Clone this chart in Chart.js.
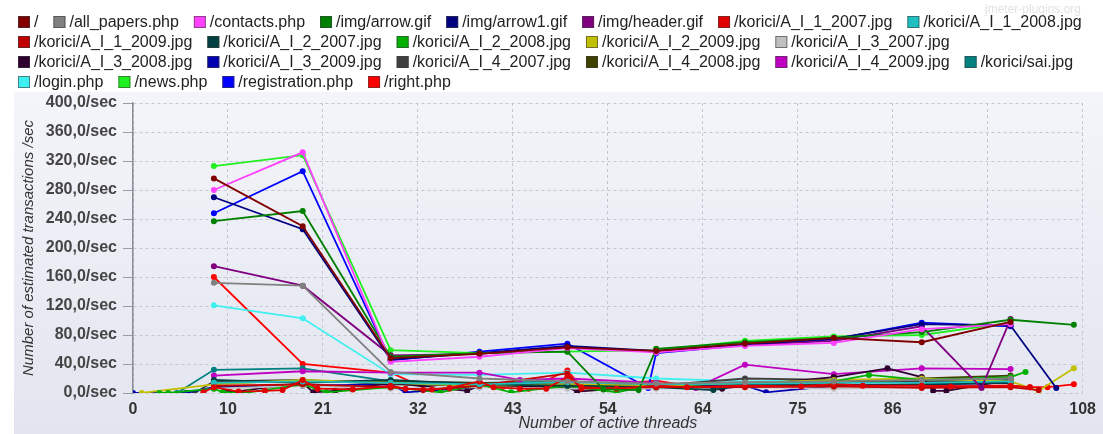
<!DOCTYPE html>
<html>
<head>
<meta charset="utf-8">
<script src="https://cdn.jsdelivr.net/npm/chart.js@4.4.1/dist/chart.umd.min.js"></script>
<style>
  html, body { margin: 0; padding: 0; background: #ffffff; }
  #wrap { width: 1103px; height: 434px; position: relative; }
</style>
</head>
<body>
<div id="wrap"><canvas id="tpsChart"></canvas></div>
<script>
// tick marks of the thread axis (JMeter divides 0..108 in 10 steps, labels truncated)
const threadTicks = [0, 10.8, 21.6, 32.4, 43.2, 54, 64.8, 75.6, 86.4, 97.2, 108];
const threadTickLabels = ['0', '10', '21', '32', '43', '54', '64', '75', '86', '97', '108'];

// samplers in legend order
const urls = [
  '/', '/all_papers.php', '/contacts.php', '/img/arrow.gif', '/img/arrow1.gif', '/img/header.gif',
  '/korici/A_I_1_2007.jpg', '/korici/A_I_1_2008.jpg', '/korici/A_I_1_2009.jpg', '/korici/A_I_2_2007.jpg',
  '/korici/A_I_2_2008.jpg', '/korici/A_I_2_2009.jpg', '/korici/A_I_3_2007.jpg', '/korici/A_I_3_2008.jpg',
  '/korici/A_I_3_2009.jpg', '/korici/A_I_4_2007.jpg', '/korici/A_I_4_2008.jpg', '/korici/A_I_4_2009.jpg',
  '/korici/sai.jpg', '/login.php', '/news.php', '/registration.php', '/right.php'
];
const colors = [
  '#800000', '#808080', '#ff40ff', '#008000', '#000080', '#800080',
  '#e00000', '#20c0c0', '#c00000', '#004040', '#00b000', '#c0c000',
  '#c0c0c0', '#300030', '#0000b0', '#404040', '#404000', '#c000c0',
  '#008080', '#40f0f0', '#20f020', '#0000ff', '#ff0000'
];

// [threads, transactions/sec]
const rootData = [[9.2,296],[19.3,230],[29.3,48],[39.4,54],[49.4,63],[59.5,58],[69.6,68],[79.7,76],[89.7,70],[99.8,98]];
const allPapersData = [[9.2,152],[19.3,148],[29.3,29],[39.4,20],[49.4,16],[59.5,13],[69.6,15],[79.7,16],[89.7,18],[99.8,20]];
const contactsData = [[9.2,280],[19.3,332],[29.3,43],[39.4,50],[49.4,62],[59.5,56],[69.6,65],[79.7,69],[89.7,88],[99.8,95]];
const arrowData = [[9.2,237],[19.3,251],[29.3,50],[39.4,55],[49.4,57],[53.5,5],[57.5,4],[59.5,61],[69.6,70],[79.7,76],[89.7,84],[99.8,101],[107,94]];
const arrow1Data = [[9.2,270],[19.3,226],[29.3,46],[39.4,55],[49.4,65],[59.5,58],[69.6,67],[79.7,75],[89.7,95],[99.8,93],[105,7]];
const headerData = [[9.2,175],[19.3,148],[29.3,52],[39.4,54],[49.4,64],[59.5,57],[69.6,66],[79.7,72],[89.7,92],[96.5,7],[99.8,102]];
const a1_2007Data = [[8,1],[9.2,8],[12,2],[15,3],[17,4],[19.3,18],[21,6],[25,5],[29.3,10],[31,6],[34,5],[36,7],[39.4,16],[41,8],[44,6],[47,6],[49.4,22],[51,8],[55,6],[59.5,10],[63,8],[69.6,10],[76,9],[79.7,12],[83,10],[89.7,10],[93,9],[99.8,10],[102,8]];
const a1_2008Data = [[9.2,14],[19.3,16],[29.3,14],[39.4,12],[49.4,15],[59.5,12],[69.6,13],[79.7,14],[89.7,14],[99.8,16]];
const a1_2009Data = [[9.2,10],[19.3,12],[29.3,8],[33,4],[39.4,10],[49.4,27],[51,6],[59.5,8],[69.6,8],[79.7,9],[89.7,7],[99.8,8],[103,4]];
const a2_2007Data = [[9.2,18],[19.3,14],[29.3,18],[39.4,12],[49.4,10],[59.5,8],[66,4],[69.6,12],[79.7,10],[89.7,12],[99.8,14]];
const a2_2008Data = [[3,0],[4,0],[9.2,6],[10.2,1],[13.2,1],[19.3,12],[22,1],[29.3,8],[35,1],[39.4,12],[43,1],[49.4,10],[55,1],[59.5,12],[69.6,14],[79.7,16],[83.7,25],[89.7,18],[99.8,22],[101.5,29]];
const a2_2009Data = [[1,0],[9.2,12],[19.3,18],[29.3,14],[39.4,10],[49.4,12],[59.5,10],[69.6,14],[79.7,18],[89.7,20],[99.8,16],[103,3],[107,34]];
const a3_2007Data = [[9.2,6],[19.3,10],[29.3,6],[39.4,8],[49.4,6],[59.5,6],[69.6,8],[79.7,6],[89.7,8],[99.8,10]];
const a3_2008Data = [[9.2,12],[11,1],[19.3,14],[20.5,1],[23,3],[29.3,14],[38,3],[39.4,10],[49.4,8],[50.5,2],[59.5,10],[67,6],[69.6,10],[79.7,22],[85.8,34],[89.7,22],[91,3],[92.5,3],[99.8,18]];
const a3_2009Data = [[0,0],[6,0],[9.2,8],[19.3,10],[29.3,12],[31,1],[39.4,8],[49.4,10],[59.5,8],[69.6,10],[72,1],[79.7,10],[89.7,12],[99.8,14]];
const a4_2007Data = [[7,0],[9.2,16],[19.3,18],[29.3,12],[39.4,10],[49.4,8],[59.5,10],[69.6,20],[79.7,18],[89.7,16],[99.8,18]];
const a4_2008Data = [[9.2,14],[19.3,16],[29.3,16],[39.4,14],[49.4,12],[59.5,10],[69.6,12],[79.7,14],[89.7,20],[99.8,24]];
const a4_2009Data = [[9.2,24],[19.3,30],[29.3,28],[39.4,28],[44,18],[49.4,20],[59.5,14],[64,7],[69.6,39],[79.7,26],[89.7,34],[99.8,33]];
const saiData = [[5,0],[9.2,32],[19.3,34],[29.3,16],[39.4,14],[49.4,16],[59.5,12],[69.6,12],[79.7,18],[89.7,16],[99.8,14]];
const loginData = [[9.2,121],[19.3,103],[29.3,26],[39.4,25],[49.4,28],[59.5,20],[69.6,16],[79.7,18],[89.7,16],[99.8,18]];
const newsData = [[9.2,313],[19.3,328],[29.3,59],[39.4,55],[49.4,57],[59.5,59],[69.6,72],[79.7,78],[89.7,80],[99.8,97]];
const registrationData = [[9.2,248],[19.3,306],[29.3,45],[39.4,57],[49.4,68],[58.6,7],[59.5,55],[69.6,66],[79.7,74],[89.7,97],[99.8,92]];
const rightData = [[9.2,160],[19.3,40],[29.3,28],[33,8],[36,6],[39.4,14],[42,8],[45,6],[49.4,31],[51,8],[59.5,17],[63,10],[69.6,12],[75,10],[79.7,14],[83,10],[89.7,12],[93,10],[99.8,10],[102,8],[104,8],[107,12]];

const seriesData = [
  rootData, allPapersData, contactsData, arrowData, arrow1Data, headerData,
  a1_2007Data, a1_2008Data, a1_2009Data, a2_2007Data, a2_2008Data, a2_2009Data,
  a3_2007Data, a3_2008Data, a3_2009Data, a4_2007Data, a4_2008Data, a4_2009Data,
  saiData, loginData, newsData, registrationData, rightData
];

const FONT = '"Liberation Sans", Arial, sans-serif';

// background: white legend strip, bluish gradient under it
const bgPlugin = {
  id: 'bg',
  beforeDraw(chart) {
    const c = chart.ctx;
    c.save();
    c.fillStyle = '#ffffff';
    c.fillRect(0, 0, chart.width, chart.height);
    const g = c.createLinearGradient(0, 92, 0, chart.height);
    g.addColorStop(0, '#f4f5fa');
    g.addColorStop(1, '#e2e5ef');
    c.fillStyle = g;
    c.fillRect(14, 92, chart.width - 14, chart.height - 92);
    c.restore();
  }
};

// legend drawn like the JMeter one: small squares, rows wrapped to the width
const legendPlugin = {
  id: 'jmLegend',
  afterDraw(chart) {
    const c = chart.ctx;
    c.save();
    c.font = '16px ' + FONT;
    c.textBaseline = 'middle';
    let x = 18, y = 22;
    chart.data.datasets.forEach(ds => {
      const w = 12 + 4 + c.measureText(ds.label).width;
      if (x + w > 1095) { x = 18; y += 20; }
      c.fillStyle = ds.borderColor;
      c.fillRect(x, y - 6, 12, 12);
      c.strokeStyle = 'rgba(60,60,60,0.6)';
      c.lineWidth = 1;
      c.strokeRect(x + 0.5, y - 5.5, 11, 11);
      c.fillStyle = '#222';
      c.fillText(ds.label, x + 16, y + 1);
      x += w + 15;
    });
    c.font = '12px ' + FONT;
    c.fillStyle = 'rgba(170,170,170,0.35)';
    c.fillText('jmeter-plugins.org', 985, 10);
    c.restore();
  }
};

const ctx = document.getElementById('tpsChart').getContext('2d');

new Chart(ctx, {
  type: 'line',
  data: {
    datasets: urls.map((u, i) => ({
      label: u,
      data: seriesData[i].map(p => ({ x: p[0], y: p[1] })),
      borderColor: colors[i],
      backgroundColor: colors[i],
      borderWidth: 1.8,
      pointRadius: 3,
      pointBorderWidth: 0,
      pointHoverRadius: 3,
      fill: false,
      tension: 0
    }))
  },
  options: {
    responsive: true,
    maintainAspectRatio: false,
    animation: false,
    layout: { padding: { top: 103, right: 13, left: 16, bottom: 0 } },
    plugins: {
      legend: { display: false },
      tooltip: { enabled: false }
    },
    scales: {
      x: {
        type: 'linear',
        min: 0,
        max: 108,
        afterBuildTicks: scale => { scale.ticks = threadTicks.map(v => ({ value: v })); },
        afterFit: scale => { scale.height = 41; },
        ticks: {
          autoSkip: false,
          maxRotation: 0,
          padding: 7,
          color: '#333',
          font: { family: FONT, size: 16, weight: 'bold' },
          callback: (v, i) => threadTickLabels[i]
        },
        grid: {
          color: '#c3c7d0',
          drawTicks: false
        },
        border: { display: false, dash: [3, 3] },
        title: {
          display: true,
          text: 'Number of active threads',
          color: '#333',
          font: { family: FONT, size: 16, style: 'italic' },
          padding: { top: 0, bottom: 1 }
        }
      },
      y: {
        min: 0,
        max: 400,
        afterFit: scale => { scale.width = 117; },
        ticks: {
          stepSize: 40,
          padding: 6,
          color: '#444',
          font: { family: FONT, size: 16, weight: 'bold' },
          callback: v => v.toFixed(1).replace('.', ',') + '/sec'
        },
        grid: {
          color: '#c3c7d0',
          tickLength: 10,
          tickColor: '#9a9ca4',
          tickBorderDash: []
        },
        border: { display: true, color: '#8a8c94', width: 1.5, dash: [3, 3] },
        title: {
          display: true,
          text: 'Number of estimated transactions /sec',
          color: '#333',
          font: { family: FONT, size: 15, style: 'italic' },
          padding: { top: 4, bottom: 0 }
        }
      }
    }
  },
  plugins: [bgPlugin, legendPlugin]
});
</script>
</body>
</html>
